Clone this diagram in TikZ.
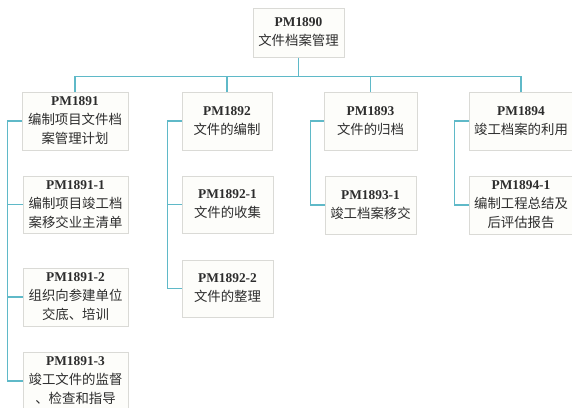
\documentclass[tikz,border=0pt]{standalone}
\usepackage{fontspec}
\setmainfont{Liberation Serif}
\newfontfamily\cjk{Noto Sans CJK SC}
\newfontfamily\latinf{Liberation Serif}
\definecolor{conncol}{RGB}{95,185,200}
\definecolor{boxline}{RGB}{218,218,214}
\definecolor{boxfill}{RGB}{253,253,250}
\definecolor{txtcol}{RGB}{45,45,45}
\newcommand{\bx}[1]{{\latinf\bfseries #1}}
\begin{document}
\begin{tikzpicture}[x=1pt,y=-1pt,
  box/.style={draw=boxline,fill=boxfill,line width=1pt,inner sep=0pt,
    align=center,text=txtcol,font=\fontsize{13.4}{19}\selectfont\cjk},
  conn/.style={draw=conncol,line width=1.4pt}]
\useasboundingbox[fill=white] (0,0) rectangle (572,407);
% root
\node[box,minimum width=91,minimum height=49] (root) at (298.5,32.5) {\bx{PM1890}\\文件档案管理};
% level 1
\node[box,minimum width=106,minimum height=58] (A) at (75,121) {\bx{PM1891}\\编制项目文件档\\案管理计划};
\node[box,minimum width=90,minimum height=58] (B) at (227,121) {\bx{PM1892}\\文件的编制};
\node[box,minimum width=93,minimum height=58] (C) at (370.5,121) {\bx{PM1893}\\文件的归档};
\node[box,minimum width=104,minimum height=58] (D) at (521,121) {\bx{PM1894}\\竣工档案的利用};
% children
\node[box,minimum width=105,minimum height=57] (A1) at (75.5,204.5) {\bx{PM1891-1}\\编制项目竣工档\\案移交业主清单};
\node[box,minimum width=105,minimum height=58] (A2) at (75.5,297) {\bx{PM1891-2}\\组织向参建单位\\交底、培训};
\node[box,minimum width=105,minimum height=58] (A3) at (75.5,381) {\bx{PM1891-3}\\竣工文件的监督\\、检查和指导};
\node[box,minimum width=91,minimum height=57] (B1) at (227.5,204.5) {\bx{PM1892-1}\\文件的收集};
\node[box,minimum width=91,minimum height=57] (B2) at (227.5,288.5) {\bx{PM1892-2}\\文件的整理};
\node[box,minimum width=91,minimum height=58] (C1) at (370.5,205) {\bx{PM1893-1}\\竣工档案移交};
\node[box,minimum width=104,minimum height=58] (D1) at (521,205) {\bx{PM1894-1}\\编制工程总结及\\后评估报告};
% bus
\draw[conn] (root.south) -- ++(0,19) coordinate (bus);
\draw[conn] (A.north) -- (A.north |- bus) -- (D.north |- bus) -- (D.north);
\draw[conn] (B.north) -- (B.north |- bus);
\draw[conn] (C.north) -- (C.north |- bus);
% left spines
\draw[conn] (A.west) -- ++(-14,0) coordinate (a0) |- (A3.west);
\draw[conn] (a0 |- A1.west) -- (A1.west);
\draw[conn] (a0 |- A2.west) -- (A2.west);
\draw[conn] (B.west) -- ++(-14,0) coordinate (b0) |- (B2.west);
\draw[conn] (b0 |- B1.west) -- (B1.west);
\draw[conn] (C.west) -- ++(-13,0) |- (C1.west);
\draw[conn] (D.west) -- ++(-14,0) |- (D1.west);
\end{tikzpicture}
\end{document}
